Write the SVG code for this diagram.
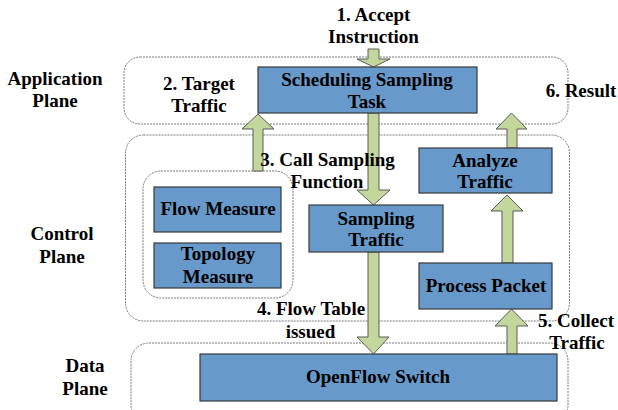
<svg xmlns="http://www.w3.org/2000/svg" width="618" height="410" viewBox="0 0 618 410">
<style>
text{font-family:'Liberation Serif','Times New Roman',serif;font-weight:700;font-size:19px;fill:#000;text-anchor:middle}
.plane{fill:none;stroke:#7a7a7a;stroke-width:1;stroke-dasharray:2 1}
.box{fill:#6799CA;stroke:#3a3a3a;stroke-width:1.2}
.arr{fill:#C3D69B;stroke:#5a5a5a;stroke-width:1}
</style>
<rect width="618" height="410" fill="#fff"/>
<g id="planes">
<rect class="plane" x="124" y="57" width="444" height="67" rx="16"/>
<rect class="plane" x="125.5" y="135" width="444" height="186" rx="18"/>
<rect class="plane" x="131" y="343" width="437" height="80" rx="18"/>
<rect class="plane" x="143" y="171" width="150" height="127" rx="18"/>
</g>
<g id="plane-labels">
<text x="55" y="85">Application</text><text x="55" y="107">Plane</text>
<text x="62" y="240">Control</text><text x="62" y="263">Plane</text>
<text x="85" y="372">Data</text><text x="85" y="395">Plane</text>
</g>
<g id="connectors">
<polygon class="arr" points="368,49 379,49 379,59 390,59 373.5,67 357,59 368,59"/>
<polygon class="arr" points="253,171 263,171 263,129 274,129 258,114 242,129 253,129"/>
<polygon class="arr" points="368,113 379,113 379,190 390,190 373.5,205 357,190 368,190"/>
<polygon class="arr" points="368,252 379,252 379,337 389,337 373.5,354 357,337 368,337"/>
<polygon class="arr" points="507,354 517,354 517,326 528,326 511.5,309 495,326 507,326"/>
<polygon class="arr" points="502,263 513,263 513,211 523,211 507,195 491,211 502,211"/>
<polygon class="arr" points="507,148 517,148 517,129 527,129 511.5,113 496,129 507,129"/>
</g>
<g id="connector-labels">
<text x="373.5" y="21">1. Accept</text><text x="373.5" y="43">Instruction</text>
<text x="199" y="90">2. Target</text><text x="199" y="112">Traffic</text>
<text x="327.5" y="166">3. Call Sampling</text><text x="327" y="188">Function</text>
<text x="311" y="315">4. Flow Table</text><text x="310.5" y="338">issued</text>
<text x="576" y="327">5. Collect</text><text x="577" y="349">Traffic</text>
<text x="581" y="97">6. Result</text>
</g>
<g id="scheduling"><rect class="box" x="258" y="67" width="219" height="46"/><text x="367" y="86">Scheduling Sampling</text><text x="367" y="108">Task</text></g>
<g id="flow-measure"><rect class="box" x="154" y="187" width="127" height="45"/><text x="218" y="215">Flow Measure</text></g>
<g id="topology-measure"><rect class="box" x="154" y="243" width="127" height="45"/><text x="218" y="260">Topology</text><text x="218" y="283">Measure</text></g>
<g id="sampling-traffic"><rect class="box" x="309" y="205" width="134" height="47"/><text x="376" y="225">Sampling</text><text x="376" y="246">Traffic</text></g>
<g id="analyze-traffic"><rect class="box" x="419" y="148" width="133" height="45"/><text x="485" y="167">Analyze</text><text x="485" y="188">Traffic</text></g>
<g id="process-packet"><rect class="box" x="419" y="263" width="133" height="46"/><text x="486" y="292">Process Packet</text></g>
<g id="openflow-switch"><rect class="box" x="200" y="354" width="357" height="47"/><text x="378" y="383">OpenFlow Switch</text></g>
</svg>
